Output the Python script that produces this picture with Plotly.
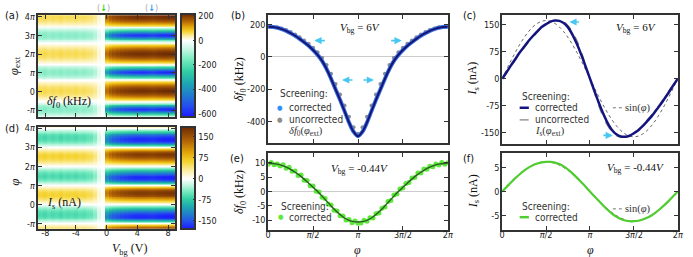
import numpy as np
import plotly.graph_objects as go

W, H = 693, 257
SANS = "Liberation Sans Narrow, DejaVu Sans Condensed, Roboto"
SERIF = "Liberation Serif"
FRAME = "#333333"

# ---------------- data ----------------
# (b) delta f0 at Vbg = 6 V (kHz), phase = 0 .. pi in steps of 0.05 pi
df0_corr_half = [185, 184, 179, 171, 160, 146, 130, 111, 90, 68, 42, 12, -25, -75, -135, -200, -265, -335, -405, -462, -490]
df0_unc_half = [185, 185, 182, 175, 166, 153, 138, 121, 101, 80, 56, 28, -6, -50, -105, -168, -232, -300, -370, -435, -475]
# (e) delta f0 fit at Vbg = -0.44 V (kHz)
df0_e_fit_half = [9.8, 9.75, 9.5, 9.1, 8.5, 7.7, 6.7, 5.6, 4.3, 2.9, 1.5, 0.0, -1.6, -3.3, -5.0, -6.6, -8.0, -9.2, -10.0, -10.45, -10.6]
# (e) measured points, phi = k/30 pi
phi_e_pts = [k / 30 for k in range(61)]
df0_e_pts = [9.5, 10.1, 9.3, 9.6, 8.9, 9.3, 8.1, 8.4, 7.0, 7.1, 5.6, 5.7, 3.9, 3.8, 2.0, 1.9, 0.1, -0.2, -2.0, -2.4,
             -4.3, -4.7, -6.5, -6.8, -8.4, -8.5, -9.9, -9.7, -10.8, -10.2, -11.0, -10.9, -10.0, -10.3, -9.1, -9.2,
             -7.7, -7.5, -5.8, -5.4, -3.5, -3.1, -1.2, -0.9, 0.9, 1.2, 2.8, 3.1, 4.7, 4.9, 6.4, 6.4, 7.8, 7.7, 8.8,
             8.6, 9.6, 9.2, 10.1, 9.5, 10.0]
# (c) supercurrent at Vbg = 6 V (nA)
Is_corr_half = [0, 18, 37, 55, 73, 89, 105, 119, 132, 144, 152, 159, 162, 161, 155, 143, 123, 97, 67, 34, 0]
Is_unc_half = [0, 16, 34, 51, 69, 85, 101, 115, 129, 141, 150, 158, 162, 163, 159, 148, 131, 107, 76, 39, 0]
Is_c_amp = 162
# (f) supercurrent at Vbg = -0.44 V (nA)
Is_f_half = [0, 0.95, 1.9, 2.8, 3.6, 4.35, 5.0, 5.5, 5.85, 6.1, 6.2, 6.2, 6.05, 5.75, 5.25, 4.6, 3.8, 2.9, 1.95, 1.0, 0]
Is_f_amp = 6.2

V_cols = [round(-9 + 0.5 * k, 1) for k in range(37)]
df_max_V = [62, 60, 64, 57, 62, 59, 64, 57, 60, 58, 62, 56, 59, 54, 52, 42, 18, 4,
            150, 170, 182, 190, 196, 200, 203, 205, 207, 208, 208, 206, 203, 206, 209, 211, 212, 212, 212]
df_min_V = [-140, -135, -145, -130, -140, -135, -142, -130, -138, -134, -140, -128, -135, -125, -120, -95, -40, -8,
            -380, -450, -490, -520, -540, -555, -565, -575, -580, -585, -585, -575, -565, -580, -590, -595, -600, -600, -600]
Is_amp_V = [62, 60, 64, 58, 62, 59, 64, 58, 61, 59, 62, 57, 59, 54, 52, 40, 16, 4,
            120, 135, 145, 152, 158, 162, 165, 168, 170, 170, 170, 168, 167, 170, 172, 174, 175, 175, 175]

xticks_pi = [0, 0.5, 1, 1.5, 2]
xticks_pi_text = ["0", "<i>π</i>/2", "<i>π</i>", "3<i>π</i>/2", "2<i>π</i>"]


# ---------------- helpers ----------------
def full_sym(h):
    return list(h) + list(h[-2::-1])


def full_anti(h):
    return list(h) + [-v for v in h[-2::-1]]


phi_full = [round(0.05 * k, 2) for k in range(41)]
df0_corr = full_sym(df0_corr_half)
df0_unc = full_sym(df0_unc_half)
df0_e_fit = full_sym(df0_e_fit_half)
Is_corr = full_anti(Is_corr_half)
Is_unc = full_anti(Is_unc_half)
Is_f = full_anti(Is_f_half)


def px(x):
    return x / W


def py(y):
    return 1 - y / H


NEG = [(0, "#ffffff"), (0.12, "#c4f6e2"), (0.25, "#78eac0"), (0.4, "#34cfa4"), (0.55, "#1fa9b0"),
       (0.7, "#2080cc"), (0.85, "#2450ec"), (1.0, "#1a1aff")]
POS = [(0, "#ffffff"), (0.15, "#fcefac"), (0.33, "#f5d432"), (0.52, "#e0a208"), (0.72, "#b46606"), (1.0, "#6c2a04")]


def make_cs(zmin, zmax):
    p0 = -zmin / (zmax - zmin)
    cs = []
    for f, c in reversed(NEG):
        cs.append([p0 * (1 - f), c])
    for f, c in POS[1:]:
        cs.append([p0 + (1 - p0) * f, c])
    return cs


# heatmap grids (phase in units of pi)
ks = list(range(-28, 83))
phi_map = [round(0.05 * k, 2) for k in ks]

z_a = []
z_d = []
for k in ks:
    i = k % 40
    row_a, row_d = [], []
    for j, V in enumerate(V_cols):
        if V < -0.25:
            p = df0_e_fit[i]
            va = p / 9.8 * df_max_V[j] if p >= 0 else p / 10.6 * abs(df_min_V[j])
            vd = Is_f[i] / Is_f_amp * Is_amp_V[j]
        else:
            p = df0_corr[i]
            va = p / 185 * df_max_V[j] if p >= 0 else p / 490 * abs(df_min_V[j])
            vd = Is_corr[i] / Is_c_amp * Is_amp_V[j]
        row_a.append(va)
        row_d.append(vd)
    z_a.append(row_a)
    z_d.append(row_d)

# ---------------- geometry (pixels) ----------------
dom = {
    "a": ((35, 174), (12.3, 115)),
    "d": ((35, 174), (125, 228.3)),
    "b": ((268.3, 450), (12.3, 141.7)),
    "e": ((268.3, 450), (152, 229.5)),
    "c": ((505, 682.7), (12.3, 142.3)),
    "f": ((505, 682.7), (152, 229.5)),
}
axn = {"a": "", "d": "2", "b": "3", "e": "4", "c": "5", "f": "6"}

fig = go.Figure()

zmin_a, zmax_a = -628, 215
zmin_d, zmax_d = -178, 185
TICKFONT = dict(family=SANS, size=9, color="#222")

fig.add_trace(go.Heatmap(
    x=V_cols, y=phi_map, z=z_a, zmin=zmin_a, zmax=zmax_a, colorscale=make_cs(zmin_a, zmax_a),
    xaxis="x", yaxis="y", hoverinfo="skip",
    colorbar=dict(x=px(180), xanchor="left", y=py((11 + 115.7) / 2), yanchor="middle",
                  len=(115.7 - 11) / H, lenmode="fraction", thickness=14, thicknessmode="pixels",
                  outlinewidth=2, outlinecolor=FRAME, ticks="inside", ticklen=3, tickcolor=FRAME,
                  tickmode="array", tickvals=[200, 0, -200, -400, -600],
                  ticktext=["200", "0", "-200", "-400", "-600"],
                  tickfont=TICKFONT, xpad=0, ypad=0)))

fig.add_trace(go.Heatmap(
    x=V_cols, y=phi_map, z=z_d, zmin=zmin_d, zmax=zmax_d, colorscale=make_cs(zmin_d, zmax_d),
    xaxis="x2", yaxis="y2", hoverinfo="skip",
    colorbar=dict(x=px(180), xanchor="left", y=py((125 + 228.3) / 2), yanchor="middle",
                  len=(228.3 - 125) / H, lenmode="fraction", thickness=14, thicknessmode="pixels",
                  outlinewidth=2, outlinecolor=FRAME, ticks="inside", ticklen=3, tickcolor=FRAME,
                  tickmode="array", tickvals=[150, 75, 0, -75, -150],
                  ticktext=["150", "75", "0", "-75", "-150"],
                  tickfont=TICKFONT, xpad=0, ypad=0)))

# (b)
fig.add_trace(go.Scatter(x=phi_full, y=df0_unc, mode="markers", xaxis="x3", yaxis="y3",
                         marker=dict(size=4, color="#8c8c8c"), hoverinfo="skip", showlegend=False))
fig.add_trace(go.Scatter(x=phi_full, y=df0_corr, mode="lines", xaxis="x3", yaxis="y3",
                         line=dict(color="#3a6ee0", width=4, shape="spline", smoothing=0.8),
                         hoverinfo="skip", showlegend=False))
fig.add_trace(go.Scatter(x=phi_full, y=df0_corr, mode="lines", xaxis="x3", yaxis="y3",
                         line=dict(color="#151575", width=2, shape="spline", smoothing=0.8),
                         hoverinfo="skip", showlegend=False))
# (e)
fig.add_trace(go.Scatter(x=phi_e_pts, y=df0_e_pts, mode="markers", xaxis="x4", yaxis="y4",
                         marker=dict(size=5, color="#5ee83c"), hoverinfo="skip", showlegend=False))
fig.add_trace(go.Scatter(x=phi_full, y=df0_e_fit, mode="lines", xaxis="x4", yaxis="y4",
                         line=dict(color="#2b5a24", width=1.4, shape="spline", smoothing=0.6),
                         hoverinfo="skip", showlegend=False))
# (c)
sin_c = [Is_c_amp * np.sin(np.pi * p) for p in phi_full]
fig.add_trace(go.Scatter(x=phi_full, y=sin_c, mode="lines", xaxis="x5", yaxis="y5",
                         line=dict(color="#555", width=0.9, dash="dot", shape="spline"),
                         hoverinfo="skip", showlegend=False))
fig.add_trace(go.Scatter(x=phi_full, y=Is_unc, mode="lines", xaxis="x5", yaxis="y5",
                         line=dict(color="#888", width=1.2, dash="dash", shape="spline"),
                         hoverinfo="skip", showlegend=False))
fig.add_trace(go.Scatter(x=phi_full, y=Is_corr, mode="lines", xaxis="x5", yaxis="y5",
                         line=dict(color="#141480", width=2.5, shape="spline", smoothing=0.6),
                         hoverinfo="skip", showlegend=False))
# (f)
sin_f = [Is_f_amp * np.sin(np.pi * p) for p in phi_full]
fig.add_trace(go.Scatter(x=phi_full, y=sin_f, mode="lines", xaxis="x6", yaxis="y6",
                         line=dict(color="#555", width=0.9, dash="dot", shape="spline"),
                         hoverinfo="skip", showlegend=False))
fig.add_trace(go.Scatter(x=phi_full, y=Is_f, mode="lines", xaxis="x6", yaxis="y6",
                         line=dict(color="#4fcc2e", width=2.2, shape="spline", smoothing=0.6),
                         hoverinfo="skip", showlegend=False))


def axis_common():
    return dict(showline=True, linewidth=2, linecolor=FRAME, mirror="ticks", ticks="inside",
                ticklen=4, tickwidth=1.3, tickcolor=FRAME, showgrid=False, zeroline=False,
                tickfont=TICKFONT, fixedrange=True)


layout = dict(width=W, height=H, margin=dict(l=0, r=0, t=0, b=0), paper_bgcolor="white",
              plot_bgcolor="white", showlegend=False)

xr = {"a": [-9.0, 8.9], "d": [-9.0, 8.9], "b": [0, 2], "e": [0, 2], "c": [0, 2], "f": [0, 2]}
yr = {"a": [-1.355, 4.09], "d": [-1.26, 4.09], "b": [-532, 257], "e": [-13.3, 13.3],
      "c": [-181, 177], "f": [-8, 8]}

for key, ((x0, x1), (y0, y1)) in dom.items():
    n = axn[key]
    xa = axis_common()
    ya = axis_common()
    xa.update(domain=[px(x0), px(x1)], range=xr[key], anchor="y" + n, ticklabelstandoff=-5)
    ya.update(domain=[py(y1), py(y0)], range=yr[key], anchor="x" + n, ticklabelstandoff=-1)
    if key in ("a", "d"):
        xa.update(tickmode="array", tickvals=[-8, -4, 0, 4, 8], ticktext=["-8", "-4", "0", "4", "8"],
                  showticklabels=(key == "d"))
        ya.update(tickmode="array", tickvals=[-1, 0, 1, 2, 3, 4],
                  ticktext=["-<i>π</i>", "0", "<i>π</i>", "2<i>π</i>", "3<i>π</i>", "4<i>π</i>"])
    else:
        xa.update(tickmode="array", tickvals=xticks_pi, ticktext=xticks_pi_text,
                  showticklabels=(key in ("e", "f")))
    if key == "b":
        ya.update(tickmode="array", tickvals=[200, 0, -200, -400], ticktext=["200", "0", "-200", "-400"],
                  zeroline=True, zerolinecolor="#cccccc", zerolinewidth=1)
    if key == "e":
        ya.update(tickmode="array", tickvals=[10, 5, 0, -5, -10], ticktext=["10", "5", "0", "-5", "-10"],
                  zeroline=True, zerolinecolor="#cccccc", zerolinewidth=1)
    if key == "c":
        ya.update(tickmode="array", tickvals=[150, 75, 0, -75, -150], ticktext=["150", "75", "0", "-75", "-150"])
    if key == "f":
        ya.update(tickmode="array", tickvals=[5, 0, -5], ticktext=["5", "0", "-5"])
    layout["xaxis" + n] = xa
    layout["yaxis" + n] = ya

fig.update_layout(**layout)

ann = []
shapes = []


def text(x, y, s, size=11, family=SANS, color="#111", xanchor="center", angle=0):
    ann.append(dict(x=px(x), y=py(y), xref="paper", yref="paper", text=s, showarrow=False,
                    xanchor=xanchor, yanchor="middle", textangle=angle,
                    font=dict(family=family, size=size, color=color)))


# panel labels
for lab, (x, y) in {"(a)": (9, 13), "(d)": (9, 127), "(b)": (238, 13), "(e)": (237, 157),
                    "(c)": (472, 13), "(f)": (471, 157)}.items():
    text(x, y, lab, size=11)

# axis titles
text(11, 63, "<i>φ</i><sub>ext</sub>", size=13, family=SERIF, angle=-90)
text(12, 181, "<i>φ</i>", size=13, family=SERIF, angle=-90)
text(128, 249, "<i>V</i><sub>bg</sub> (V)", size=12, family=SERIF)
text(240, 77, "<i>δf</i><sub>0</sub> (kHz)", size=12, family=SERIF, angle=-90)
text(240, 191, "<i>δf</i><sub>0</sub> (kHz)", size=12, family=SERIF, angle=-90)
text(476, 77, "<i>I</i><sub>s</sub> (nA)", size=12, family=SERIF, angle=-90)
text(476, 191, "<i>I</i><sub>s</sub> (nA)", size=12, family=SERIF, angle=-90)
text(359, 250, "<i>φ</i>", size=12, family=SERIF)
text(594, 250, "<i>φ</i>", size=12, family=SERIF)

# in-map labels
text(42, 100, "<i>δf</i><sub>0</sub> (kHz)", size=12, family=SERIF, xanchor="left")
text(42, 202, "<i>I</i><sub>s</sub> (nA)", size=12, family=SERIF, xanchor="left")

# gate voltage markers above (a)
text(101.7, 5, "<span style='color:#aaa'>(</span><b><span style='color:#44cc22'>↓</span></b><span style='color:#aaa'>)</span>", size=9)
text(150.7, 5, "<span style='color:#aaa'>(</span><b><span style='color:#3c9be8'>↓</span></b><span style='color:#aaa'>)</span>", size=9)

# Vbg labels
text(361, 25, "<i>V</i><sub>bg</sub> = 6<i>V</i>", size=11, family=SERIF)
text(640, 25, "<i>V</i><sub>bg</sub> = 6<i>V</i>", size=11, family=SERIF)
text(361, 168, "<i>V</i><sub>bg</sub> = -0.44<i>V</i>", size=11, family=SERIF)
text(640, 167, "<i>V</i><sub>bg</sub> = -0.44<i>V</i>", size=11, family=SERIF)

# legends (b)
text(278, 92, "Screening:", size=10, xanchor="left", color="#333")
text(280.5, 106, "●", size=7, color="#2f8fff")
text(287, 106, "corrected", size=10, xanchor="left", color="#333")
text(280.5, 118.3, "●", size=7, color="#8c8c8c")
text(287, 118.3, "uncorrected", size=10, xanchor="left", color="#333")
text(287, 130, "<i>δf</i><sub>0</sub>(<i>φ</i><sub>ext</sub>)", size=10.5, family=SERIF, xanchor="left", color="#333")
# legend (e)
text(279, 206, "Screening:", size=10, xanchor="left", color="#333")
text(281, 216.7, "●", size=7, color="#5ee83c")
text(287, 216.7, "corrected", size=10, xanchor="left", color="#333")
# legend (c)
text(522.7, 95, "Screening:", size=10, xanchor="left", color="#333")
shapes.append(dict(type="line", xref="paper", yref="paper", x0=px(522.7), x1=px(532), y0=py(106), y1=py(106),
                   line=dict(color="#141480", width=2.5)))
text(536, 106, "corrected", size=10, xanchor="left", color="#333")
shapes.append(dict(type="line", xref="paper", yref="paper", x0=px(522.7), x1=px(532), y0=py(118.3), y1=py(118.3),
                   line=dict(color="#666", width=1, dash="dash")))
text(536, 118.3, "uncorrected", size=10, xanchor="left", color="#333")
text(536, 130, "<i>I</i><sub>s</sub>(<i>φ</i><sub>ext</sub>)", size=10.5, family=SERIF, xanchor="left", color="#333")
shapes.append(dict(type="line", xref="paper", yref="paper", x0=px(617), x1=px(627), y0=py(106), y1=py(106),
                   line=dict(color="#666", width=0.9, dash="dot")))
text(627, 106, "sin(<i>φ</i>)", size=10.5, family=SERIF, xanchor="left", color="#333")
# legend (f)
text(522.7, 206, "Screening:", size=10, xanchor="left", color="#333")
shapes.append(dict(type="line", xref="paper", yref="paper", x0=px(522.7), x1=px(532), y0=py(216.7), y1=py(216.7),
                   line=dict(color="#4fcc2e", width=2.5)))
text(536, 216.7, "corrected", size=10, xanchor="left", color="#333")
shapes.append(dict(type="line", xref="paper", yref="paper", x0=px(617), x1=px(627), y0=py(208.3), y1=py(208.3),
                   line=dict(color="#666", width=0.9, dash="dot")))
text(627, 208.3, "sin(<i>φ</i>)", size=10.5, family=SERIF, xanchor="left", color="#333")

# cyan shift arrows (data coordinates: phase/pi, value)
ARROW = "#48c8f0"
arrows_b = [(0.514, 100, 12), (1.486, 100, -12), (0.822, -143, 12), (1.178, -143, -12)]
for x, y, ax in arrows_b:
    ann.append(dict(x=x, y=y, xref="x3", yref="y3", ax=ax, ay=0, showarrow=True, arrowhead=2,
                    arrowsize=0.9, arrowwidth=1.6, arrowcolor=ARROW, text=""))
arrows_c = [(0.765, 158, 11), (1.26, -158, -11)]
for x, y, ax in arrows_c:
    ann.append(dict(x=x, y=y, xref="x5", yref="y5", ax=ax, ay=0, showarrow=True, arrowhead=2,
                    arrowsize=0.9, arrowwidth=1.6, arrowcolor=ARROW, text=""))

fig.update_layout(annotations=ann, shapes=shapes)
fig.write_html("out.html", config={"displayModeBar": False},
               post_script="document.body.style.margin='0';document.body.style.padding='0';")
